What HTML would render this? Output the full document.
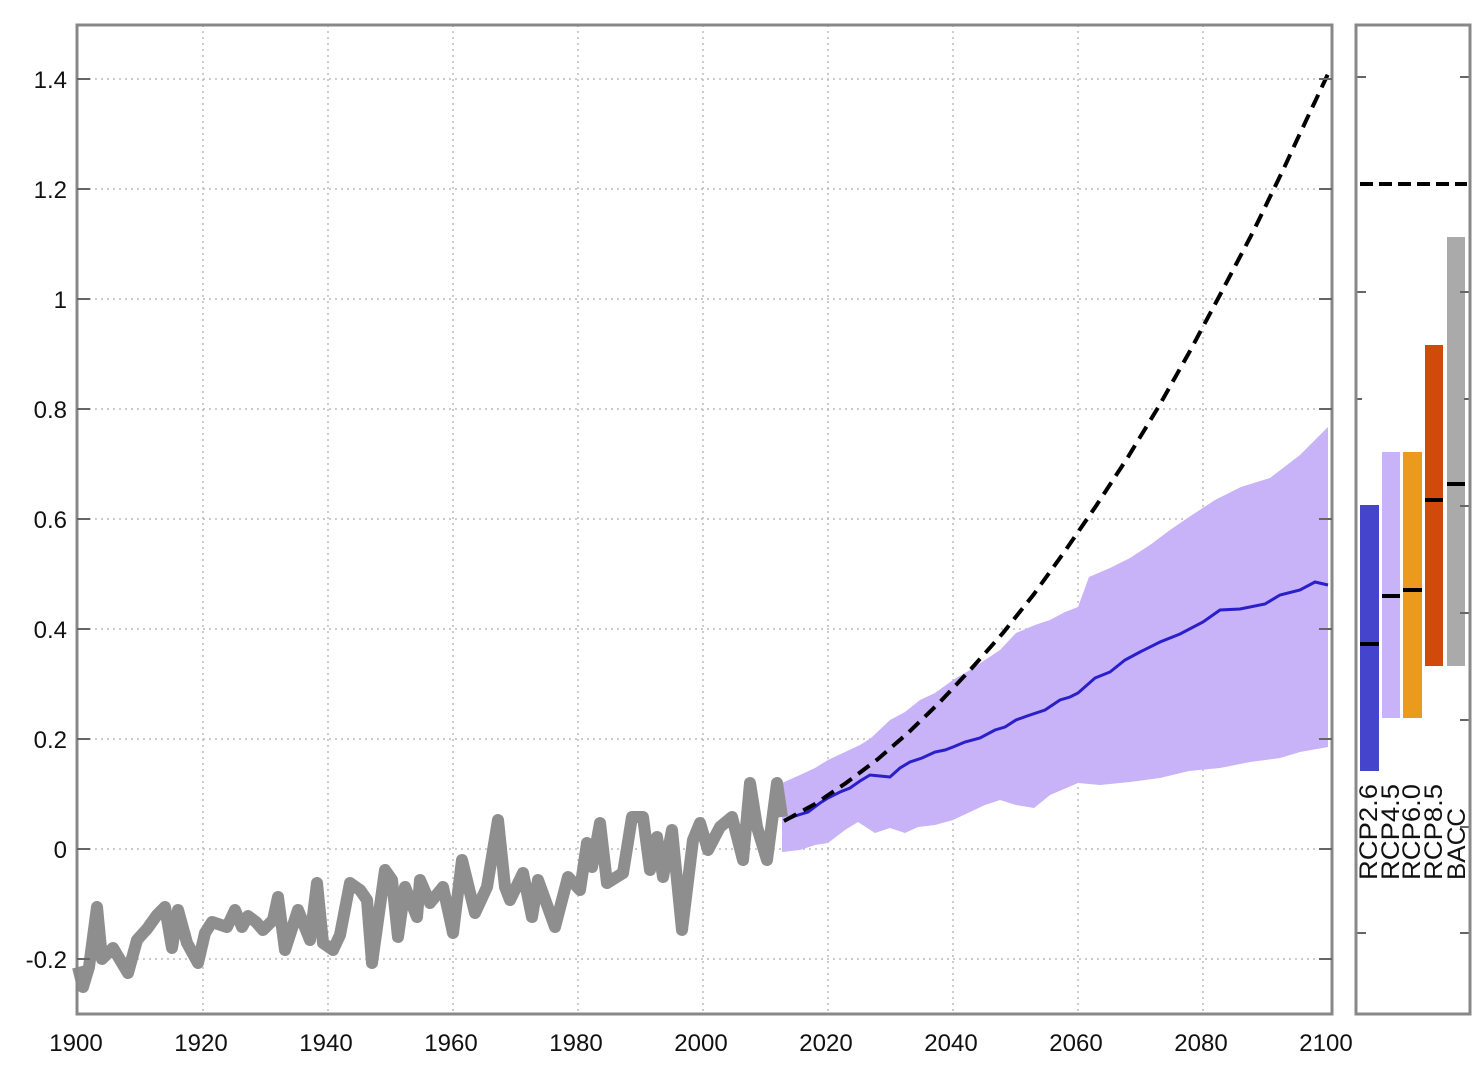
<!DOCTYPE html>
<html><head><meta charset="utf-8"><style>
html,body{margin:0;padding:0;background:#fff;}
svg{display:block;font-family:"Liberation Sans",sans-serif;}
</style></head><body>
<svg width="1479" height="1080" viewBox="0 0 1479 1080" xmlns="http://www.w3.org/2000/svg">
<rect width="1479" height="1080" fill="#fff"/>
<g stroke="#bbb" stroke-width="1.5" stroke-dasharray="2,4">
<line x1="203" y1="25" x2="203" y2="1014"/><line x1="328" y1="25" x2="328" y2="1014"/>
<line x1="453" y1="25" x2="453" y2="1014"/><line x1="578" y1="25" x2="578" y2="1014"/>
<line x1="703" y1="25" x2="703" y2="1014"/><line x1="828" y1="25" x2="828" y2="1014"/>
<line x1="953" y1="25" x2="953" y2="1014"/><line x1="1078" y1="25" x2="1078" y2="1014"/>
<line x1="1203" y1="25" x2="1203" y2="1014"/>
<line x1="77" y1="79" x2="1332" y2="79"/><line x1="77" y1="189" x2="1332" y2="189"/>
<line x1="77" y1="299" x2="1332" y2="299"/><line x1="77" y1="409" x2="1332" y2="409"/>
<line x1="77" y1="519" x2="1332" y2="519"/><line x1="77" y1="629" x2="1332" y2="629"/>
<line x1="77" y1="739" x2="1332" y2="739"/><line x1="77" y1="849" x2="1332" y2="849"/>
<line x1="77" y1="959" x2="1332" y2="959"/>
</g>
<polygon fill="#c8b2f8" points="782,783 800,775 815,768 828,760 845,752 860,745 871,738 890,720 905,712 920,700 935,693 953,680 970,670 985,660 1000,650 1016,633 1035,625 1050,620 1065,612 1078,607 1089,577 1110,568 1130,558 1150,545 1170,530 1189,517 1215,500 1241,487 1270,478 1300,455 1315,440 1328,427 1328,747 1300,752 1280,758 1250,762 1220,768 1189,771 1160,778 1130,782 1100,785 1078,783 1050,795 1034,808 1016,805 1000,800 985,805 970,812 953,820 935,825 918,827 905,833 890,828 875,833 858,822 845,830 828,843 815,845 800,850 782,852"/>
<polyline fill="none" stroke="#8e8e8e" stroke-width="12" stroke-linejoin="round" points="78,967 83,987 89,967 97,907 102,959 113,948 128,973 137,940 147,929 157,915 165,907 172,948 178,910 187,943 198,963 205,933 212,922 227,927 235,910 242,927 248,916 256,922 263,930 273,920 278,897 285,950 298,910 310,940 317,883 323,943 333,950 340,935 350,883 360,890 367,900 372,963 385,870 392,880 398,937 405,887 417,917 420,880 430,903 443,887 453,933 462,860 475,913 487,887 498,820 505,887 510,900 523,873 532,917 538,880 555,927 568,877 580,890 587,843 592,867 600,823 607,883 623,873 632,817 643,817 650,870 657,837 663,877 672,830 682,930 693,840 700,823 708,850 720,827 732,817 743,860 750,783 757,827 767,860 777,783 782,817"/>
<polyline fill="none" stroke="#2a1fc8" stroke-width="3" points="784,821 795,816 808,812 820,803 828,798 840,792 850,788 860,781 870,775 880,776 890,777 900,768 910,762 922,758 935,752 945,750 953,747 965,742 980,738 995,730 1005,727 1016,720 1030,715 1045,710 1060,700 1070,697 1078,693 1095,678 1110,672 1125,660 1140,652 1160,642 1180,634 1203,622 1220,610 1240,609 1265,604 1280,595 1300,590 1315,582 1328,585"/>
<polyline fill="none" stroke="#000" stroke-width="4" stroke-dasharray="14,8" points="784,821 815,804 846,783 878,759 909,732 940,702 971,669 1003,633 1034,594 1065,551 1096,506 1128,457 1159,406 1190,351 1221,293 1253,232 1284,168 1296,142 1328,74"/>
<rect x="77" y="25" width="1255" height="989" fill="none" stroke="#888" stroke-width="3"/>
<g stroke="#666" stroke-width="2">
<line x1="77" y1="79" x2="90" y2="79"/><line x1="77" y1="189" x2="90" y2="189"/><line x1="77" y1="299" x2="90" y2="299"/><line x1="77" y1="409" x2="90" y2="409"/><line x1="77" y1="519" x2="90" y2="519"/><line x1="77" y1="629" x2="90" y2="629"/><line x1="77" y1="739" x2="90" y2="739"/><line x1="77" y1="849" x2="90" y2="849"/><line x1="77" y1="959" x2="90" y2="959"/>
<line x1="1319" y1="79" x2="1332" y2="79"/><line x1="1319" y1="189" x2="1332" y2="189"/><line x1="1319" y1="299" x2="1332" y2="299"/><line x1="1319" y1="409" x2="1332" y2="409"/><line x1="1319" y1="519" x2="1332" y2="519"/><line x1="1319" y1="629" x2="1332" y2="629"/><line x1="1319" y1="739" x2="1332" y2="739"/><line x1="1319" y1="849" x2="1332" y2="849"/><line x1="1319" y1="959" x2="1332" y2="959"/>
</g>
<g font-size="24" fill="#111" text-anchor="end">
<text x="67" y="88">1.4</text><text x="67" y="198">1.2</text><text x="67" y="308">1</text><text x="67" y="418">0.8</text><text x="67" y="528">0.6</text><text x="67" y="638">0.4</text><text x="67" y="748">0.2</text><text x="67" y="858">0</text><text x="67" y="968">-0.2</text>
</g>
<g font-size="24" fill="#111" text-anchor="middle">
<text x="76" y="1051">1900</text><text x="201" y="1051">1920</text><text x="326" y="1051">1940</text><text x="451" y="1051">1960</text><text x="576" y="1051">1980</text><text x="701" y="1051">2000</text><text x="826" y="1051">2020</text><text x="951" y="1051">2040</text><text x="1076" y="1051">2060</text><text x="1201" y="1051">2080</text><text x="1326" y="1051">2100</text>
</g>
<line x1="1360" y1="184" x2="1467" y2="184" stroke="#000" stroke-width="4" stroke-dasharray="13,6"/>
<rect x="1360" y="505" width="19" height="266" fill="#4444cc"/>
<rect x="1382" y="452" width="18" height="266" fill="#c8b2f8"/>
<rect x="1403" y="452" width="19" height="266" fill="#eb9a1e"/>
<rect x="1425" y="345" width="18" height="321" fill="#d14a0c"/>
<rect x="1447" y="237" width="18" height="429" fill="#aaaaaa"/>
<g stroke="#000" stroke-width="4">
<line x1="1360" y1="644" x2="1379" y2="644"/><line x1="1382" y1="596" x2="1400" y2="596"/><line x1="1403" y1="590" x2="1422" y2="590"/><line x1="1425" y1="500" x2="1443" y2="500"/><line x1="1447" y1="484" x2="1465" y2="484"/>
</g>
<g stroke="#666" stroke-width="2">
<line x1="1356" y1="77" x2="1366" y2="77"/><line x1="1460" y1="77" x2="1470" y2="77"/>
<line x1="1356" y1="292" x2="1366" y2="292"/><line x1="1460" y1="292" x2="1470" y2="292"/>
<line x1="1356" y1="399" x2="1362" y2="399"/><line x1="1464" y1="399" x2="1470" y2="399"/>
<line x1="1460" y1="506" x2="1470" y2="506"/><line x1="1460" y1="613" x2="1470" y2="613"/><line x1="1460" y1="720" x2="1470" y2="720"/><line x1="1460" y1="827" x2="1470" y2="827"/>
<line x1="1356" y1="933" x2="1366" y2="933"/><line x1="1460" y1="933" x2="1470" y2="933"/>
</g>
<rect x="1356" y="25" width="114" height="989" fill="none" stroke="#888" stroke-width="3"/>
<g font-size="25" fill="#111">
<text transform="translate(1377,880) rotate(-90)" textLength="96" lengthAdjust="spacingAndGlyphs">RCP2.6</text>
<text transform="translate(1399,880) rotate(-90)" textLength="96" lengthAdjust="spacingAndGlyphs">RCP4.5</text>
<text transform="translate(1420,880) rotate(-90)" textLength="96" lengthAdjust="spacingAndGlyphs">RCP6.0</text>
<text transform="translate(1442,880) rotate(-90)" textLength="96" lengthAdjust="spacingAndGlyphs">RCP8.5</text>
<text transform="translate(1465,880) rotate(-90)" textLength="72" lengthAdjust="spacingAndGlyphs">BACC</text>
</g>
</svg>
</body></html>
